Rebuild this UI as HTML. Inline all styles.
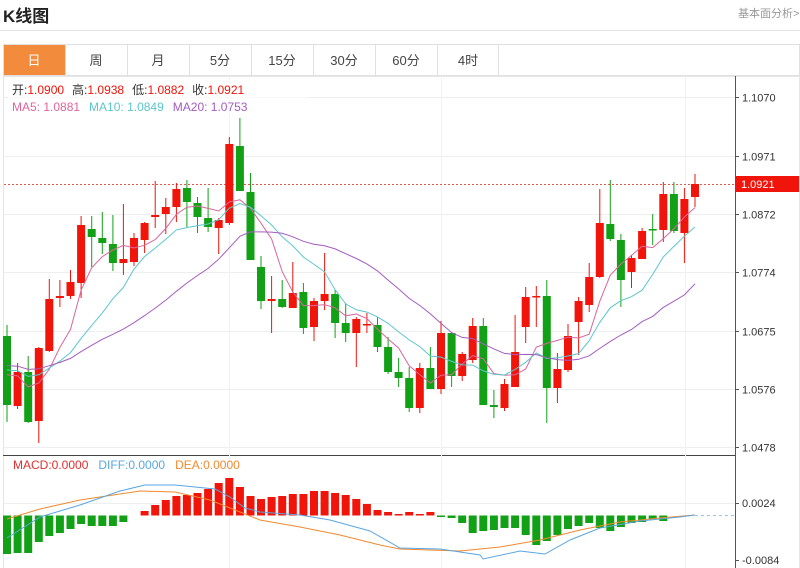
<!DOCTYPE html>
<html><head><meta charset="utf-8">
<style>
html,body{margin:0;padding:0;background:#fff;}
body{width:800px;height:568px;position:relative;overflow:hidden;font-family:"Liberation Sans","Noto Sans CJK SC",sans-serif;}
.t{position:absolute;white-space:nowrap;}
</style></head><body>
<div class="t" style="left:3px;top:2px;font-size:17px;font-weight:bold;color:#222;">K线图</div>
<div class="t" style="left:738px;top:5px;font-size:11px;color:#999;">基本面分析&gt;</div>
<div style="position:absolute;left:0;top:30px;width:800px;height:1px;background:#e2e2e2;"></div>
<svg id="s" width="800" height="568" style="position:absolute;left:0;top:0" xmlns="http://www.w3.org/2000/svg" font-family="Liberation Sans, Noto Sans CJK SC, sans-serif"></svg>
<script>
var s=document.getElementById('s');var h='';var SP=10.585;
function L(x1,y1,x2,y2,c,w,d){h+='<line x1="'+x1+'" y1="'+y1+'" x2="'+x2+'" y2="'+y2+'" stroke="'+c+'" stroke-width="'+(w||1)+'"'+(d?' stroke-dasharray="'+d+'"':'')+'/>';}
function T(x,y,t,c,sz,a){h+='<text x="'+x+'" y="'+y+'" fill="'+c+'" font-size="'+(sz||12)+'"'+(a?' text-anchor="'+a+'"':'')+'>'+t+'</text>';}
h+='<rect x="3.5" y="44.5" width="796" height="31" fill="#fff" stroke="#e0e0e0"/>';
var tabs=['日','周','月','5分','15分','30分','60分','4时'];
for(var i=0;i<8;i++){var x=3+i*62;
 if(i==0)h+='<rect x="4" y="45" width="62" height="30" fill="#f38b3c"/>';
 else L(x+0.5,45,x+0.5,75,'#e0e0e0');
 T(x+31,65,tabs[i],i==0?'#fff':'#444',13,'middle');}
L(4+8*62-1.5,45,4+8*62-1.5,75,'#e0e0e0');
h+='<rect x="3.5" y="76.5" width="796" height="492" fill="none" stroke="#e6e6e6"/>';
L(735.5,76,735.5,568,'#555');
L(3,455.5,735,455.5,'#444');
var ticks=[[97,'1.1070'],[155.5,'1.0971'],[214,'1.0872'],[272,'1.0774'],[330.5,'1.0675'],[389,'1.0576'],[447,'1.0478']];
ticks.forEach(function(t){var y=Math.round(t[0])+0.5;L(4,y,735,y,'#eeeeee');L(735,y,739,y,'#555');T(742,y+4,t[1],'#333',11);});
[229,441,685].forEach(function(x){L(x+0.5,76,x+0.5,568,'#eef2f4');});
L(4,503.5,735,503.5,'#eeeeee');L(735,503.5,739,503.5,'#555');T(742,507,'0.0024','#333',11);
L(735,560.5,739,560.5,'#555');T(742,564,'-0.0084','#333',11);
L(4,184.5,735,184.5,'#e05a4a',1,'2,2');
h+='<rect x="736" y="176" width="63" height="16" fill="#f0140a"/>';T(741,188,'1.0921','#fff',11);
var C=[['g',336,405,325,422],['r',372,406,363,409],['g',372,422,356,423],['r',348,421,347,443],['r',299,351,279,352],['r',296,298,280,307],['r',282,296,270,299],['r',225,283,216,298],['g',229,237,216,267],['g',238,243,212,254],['g',244,263,215,271],['r',259,263,204,275],['r',238,262,233,266],['r',223,240,222,253],['r',215,217,181,228],['r',207,214,198,234],['r',189,207,183,222],['g',188,202,180,227],['g',203,217,197,233],['g',218,227,188,232],['r',220,228,218,254],['r',144,223,137,225],['g',146,191,118,191],['g',192,260,173,260],['g',267,301,256,309],
['r',299,301,276,333],['g',299,307,280,308],['r',293,308,262,308],['g',292,328,283,334],['r',301,327,298,341],['r',294,301,253,310],['g',294,323,290,338],['g',323,333,303,342],['r',319,333,317,367],['r',324,325,313,333],['g',325,347,317,352],['g',347,372,337,374],['g',372,378,358,387],['g',378,408,367,412],['r',368,408,363,413],['g',368,389,347,389],['r',333,389,321,394],['g',333,376,332,387],['r',354,376,352,381],['r',326,360,318,363],['g',326,405,318,405],['g',405,407,390,418],['r',384,408,379,411],['r',352,387,315,387],['r',297,327,287,343],
['r',296,297,286,327],['g',296,388,280,423],['r',369,388,353,403],['r',336,370,324,372],['r',301,322,297,355],['r',277,305,263,312],['r',223,277,189,278],['g',224,239,180,241],['g',240,280,234,307],['r',258,272,255,288],['r',231,259,228,259],['g',229,230,214,245],['r',194,230,182,242],['g',194,231,182,233],['r',199,233,188,263],['r',184,197,174,207]];
var RED='#f0140a',GR='#12a116';
var closes=[];
C.forEach(function(c,i){var x=7+i*SP;var col=c[0]=='r'?RED:GR;
 L(x.toFixed(1),c[3],x.toFixed(1),c[4],col);
 var bh=Math.max(c[2]-c[1],1.5);
 h+='<rect x="'+(x-4).toFixed(1)+'" y="'+c[1]+'" width="8" height="'+bh+'" fill="'+col+'"/>';
 closes.push(c[0]=='r'?c[1]:c[2]);});
var pad=[];for(var k=0;k<19;k++)pad.push(368-k*0.5);pad.reverse();
var all=pad.concat(closes);
function ma(n,col){var pts=[];for(var i=0;i<closes.length;i++){var j=i+19;var sm=0;for(var k=0;k<n;k++)sm+=all[j-k];pts.push((7+i*SP).toFixed(1)+','+(sm/n).toFixed(1));}
 h+='<polyline points="'+pts.join(' ')+'" fill="none" stroke="'+col+'" stroke-width="1"/>';}
ma(5,'#d9669e');ma(10,'#5cc6cf');ma(20,'#a45cc0');
var M=[554,553,553,542,536,533,529,524,526,526,526,522,515,511,505,500,496,495,493,489,483,478,487,496,499,497,496,494,494,491,491,493,495,499,504,510,512,514,512,514,512,517,518,523,533,531,530,528,528,535,545,541,535,529,526,523,528,531,527,523,522,519,521,516,516,516];
M.forEach(function(y,i){var x=7+i*SP;var z=515.5;var up=y<z;var top=up?y:z,hh=Math.abs(y-z);if(hh<1.5)return;
 h+='<rect x="'+(x-4).toFixed(1)+'" y="'+top+'" width="8" height="'+hh+'" fill="'+(up?RED:GR)+'"/>';});
L(695,515.5,735,515.5,'#9cc3e0',1,'3,3');
var D=[[7,538],[40,517],[80,505],[120,491],[145,485],[175,485],[215,489],[230,497],[245,508],[260,512],[300,515],[330,520],[370,531],[400,548],[440,549],[480,555],[483,559],[520,551],[545,554],[570,540],[600,528],[640,521],[680,517],[695,515]];
var E=[[7,519],[40,509],[80,500],[120,494],[140,491],[175,492],[210,500],[230,508],[260,520],[300,527],[340,535],[380,545],[400,549],[460,551],[500,547],[540,540],[580,530],[620,522],[660,518],[695,515]];
h+='<polyline points="'+E.map(function(p){return p.join(',')}).join(' ')+'" fill="none" stroke="#f08a30" stroke-width="1"/>';
h+='<polyline points="'+D.map(function(p){return p.join(',')}).join(' ')+'" fill="none" stroke="#5aa6e0" stroke-width="1"/>';
h+='<rect x="8" y="80" width="300" height="34" fill="#fff" fill-opacity="0.6"/>';
h+='<text x="12" y="94" font-size="12"><tspan fill="#333">开:</tspan><tspan fill="'+RED+'">1.0900</tspan><tspan fill="#333" dx="8">高:</tspan><tspan fill="'+RED+'">1.0938</tspan><tspan fill="#333" dx="8">低:</tspan><tspan fill="'+RED+'">1.0882</tspan><tspan fill="#333" dx="8">收:</tspan><tspan fill="'+RED+'">1.0921</tspan></text>';
h+='<text x="12" y="111" font-size="12"><tspan fill="#e0649a">MA5: 1.0881</tspan><tspan fill="#5cc6cf" dx="9">MA10: 1.0849</tspan><tspan fill="#a45cc0" dx="9">MA20: 1.0753</tspan></text>';
h+='<text x="13" y="469" font-size="12"><tspan fill="#e03030">MACD:0.0000</tspan><tspan fill="#5aa6e0" dx="10">DIFF:0.0000</tspan><tspan fill="#f08a30" dx="10">DEA:0.0000</tspan></text>';
s.innerHTML=h;
</script>
</body></html>
